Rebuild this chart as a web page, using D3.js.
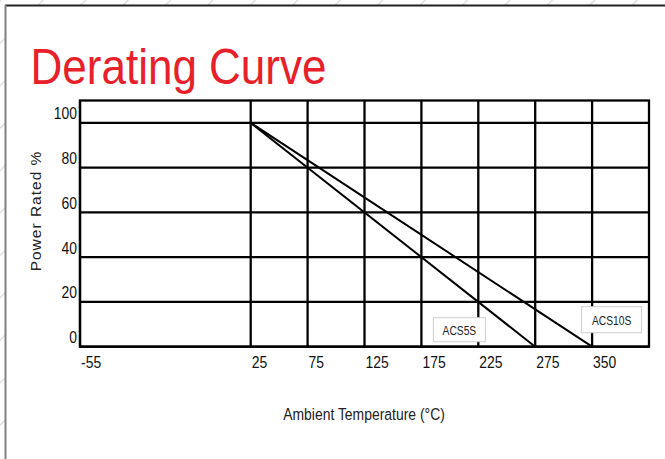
<!DOCTYPE html>
<html>
<head>
<meta charset="utf-8">
<script src="https://cdn.jsdelivr.net/npm/d3@7"></script>
<style>
  html, body { margin: 0; padding: 0; background: #fff; }
  svg { display: block; }
</style>
</head>
<body>
<svg id="chart" width="665" height="459"></svg>
<script>
// ---- data ----
const title = "Derating Curve";
const yTitle = "Power Rated %";
const xTitle = "Ambient Temperature (°C)";
const xTicks = [-55, 25, 75, 125, 175, 225, 275, 350];
const yTicks = [0, 20, 40, 60, 80, 100];
const seriesNames = ["ACS5S", "ACS10S"];
const acs5sTemp = [25, 275];
const acs5sPower = [100, 0];
const acs10sTemp = [25, 350];
const acs10sPower = [100, 0];

(function () {
// ---- layout ----
const W = 665, H = 459;
const pL = 80, pR = 649, pT = 100.5, pB = 346.7;
const slots = [0, 3, 4, 5, 6, 7, 8, 9]; // tick slot index on the category-like axis
const nSlots = 10;
const unit = (pR - pL) / nSlots;
const NARROW = 0.82;

const svg = d3.select("#chart");

// background hatch
const defs = svg.append("defs");
const pat = defs.append("pattern")
  .attr("id", "hatch").attr("patternUnits", "userSpaceOnUse")
  .attr("width", 30).attr("height", 30)
  .attr("patternTransform", "rotate(45)");
pat.append("rect").attr("width", 30).attr("height", 30).attr("fill", "#fff");
pat.append("line").attr("x1", 0).attr("y1", 0).attr("x2", 0).attr("y2", 30)
  .attr("stroke", "#d9d9d9").attr("stroke-width", 2.5);
svg.append("rect").attr("width", W).attr("height", H).attr("fill", "url(#hatch)");

// panel
svg.append("rect").attr("x", 5).attr("y", 5).attr("width", W - 5).attr("height", H - 5).attr("fill", "#fff");
svg.append("line").attr("x1", 5).attr("x2", W).attr("y1", 5.5).attr("y2", 5.5)
  .attr("stroke", "#222").attr("stroke-width", 2);
svg.append("line").attr("x1", 5.5).attr("x2", 5.5).attr("y1", 5).attr("y2", H)
  .attr("stroke", "#808080").attr("stroke-width", 2);

// title
svg.append("text").attr("x", 30.5).attr("y", 83.5)
  .attr("font-family", "'Liberation Sans', Arial, sans-serif")
  .attr("font-size", 50).attr("fill", "#e8202a")
  .attr("textLength", 296).attr("lengthAdjust", "spacingAndGlyphs")
  .text(title);

// scales
const x = d3.scaleLinear().domain(xTicks).range(slots.map(s => pL + s * unit));
const y = d3.scaleLinear().domain([0, 110]).range([pB, pT]);

const grid = svg.append("g").attr("stroke", "#000").attr("stroke-width", 2.3).attr("fill", "none");
grid.append("rect").attr("x", pL).attr("y", pT).attr("width", pR - pL).attr("height", pB - pT);
grid.selectAll("line.h").data(yTicks).join("line").attr("class", "h")
  .attr("x1", pL).attr("x2", pR).attr("y1", d => y(d)).attr("y2", d => y(d));
grid.selectAll("line.v").data(xTicks).join("line").attr("class", "v")
  .attr("x1", d => x(d)).attr("x2", d => x(d)).attr("y1", pT).attr("y2", pB);

const font = "'Liberation Sans', Arial, sans-serif";
const place = (px, py) => `translate(${px},${py}) scale(${NARROW},1)`;

svg.append("g").selectAll("text").data(yTicks).join("text")
  .attr("transform", d => place(pL - 3, y(d) - 3.5))
  .attr("text-anchor", "end").attr("font-family", font).attr("font-size", 17).attr("fill", "#111")
  .text(d => d);

svg.append("g").selectAll("text").data(xTicks).join("text")
  .attr("transform", d => place(x(d) + 1, 367.5))
  .attr("text-anchor", "start").attr("font-family", font).attr("font-size", 17).attr("fill", "#111")
  .text(d => d);

svg.append("text").attr("transform", "translate(40.5,211) rotate(-90)")
  .attr("text-anchor", "middle").attr("font-family", font)
  .attr("font-size", 15.5).attr("letter-spacing", 1).attr("fill", "#222")
  .text(yTitle);
svg.append("text").attr("transform", place(364, 419.5))
  .attr("text-anchor", "middle").attr("font-family", font)
  .attr("font-size", 17).attr("fill", "#222")
  .text(xTitle);

const series = [
  { name: seriesNames[0], t: acs5sTemp, p: acs5sPower },
  { name: seriesNames[1], t: acs10sTemp, p: acs10sPower }
];
const line = d3.line().x(d => x(d[0])).y(d => y(d[1]));
svg.append("g").selectAll("path").data(series).join("path")
  .attr("d", s => line(s.t.map((t, i) => [t, s.p[i]])))
  .attr("fill", "none").attr("stroke", "#000").attr("stroke-width", 2);

const labelBoxes = [
  { name: seriesNames[0], cx: x(175) + 38, cy: y(0) - 17, w: 52, h: 24 },
  { name: seriesNames[1], cx: x(350) + 19.5, cy: y(0) - 27, w: 60, h: 26 }
];
const lb = svg.append("g").selectAll("g").data(labelBoxes).join("g");
lb.append("rect")
  .attr("x", d => d.cx - d.w / 2).attr("y", d => d.cy - d.h / 2)
  .attr("width", d => d.w).attr("height", d => d.h)
  .attr("fill", "#fff").attr("stroke", "#cfcfcf").attr("stroke-width", 1);
lb.append("text")
  .attr("transform", d => place(d.cx, d.cy + 5))
  .attr("text-anchor", "middle").attr("font-family", font)
  .attr("font-size", 12.5).attr("fill", "#222")
  .text(d => d.name);
})();
</script>
</body>
</html>
